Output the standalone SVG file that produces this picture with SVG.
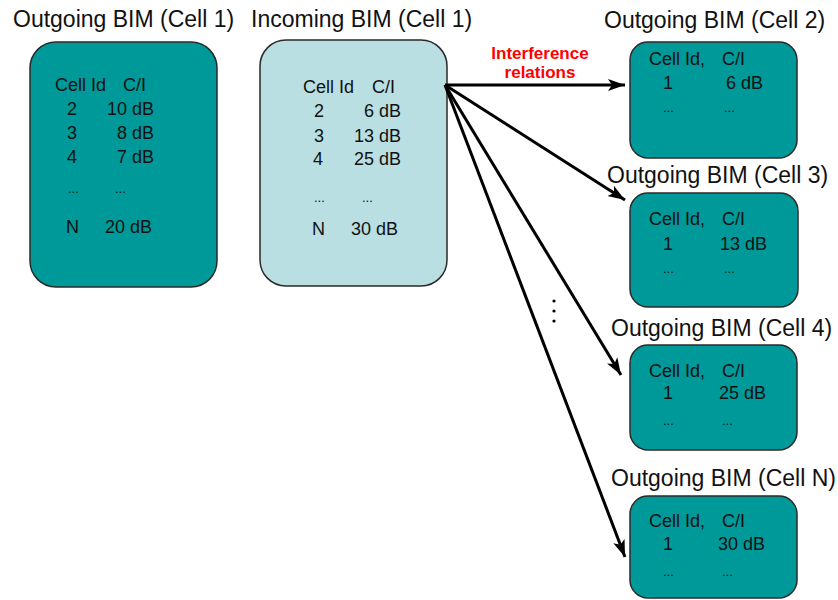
<svg xmlns="http://www.w3.org/2000/svg" width="838" height="600" viewBox="0 0 838 600">
<defs>
<style>
.title{font-family:"Liberation Sans",Arial,sans-serif;font-size:23px;fill:#111}
.t{font-family:"Liberation Sans",Arial,sans-serif;font-size:18px;fill:#111}
.dots{font-family:"Liberation Sans",Arial,sans-serif;font-size:13px;fill:#111}
.dark{fill:#009999;stroke:#2a2a2a;stroke-width:1.5}
.light{fill:#b9dfe2;stroke:#2a2a2a;stroke-width:1.5}
.conn{stroke:#000;stroke-width:3;fill:none;marker-end:url(#arr)}
.red{font-family:"Liberation Sans",Arial,sans-serif;font-size:17px;font-weight:bold;fill:#ff0000}
</style>
<marker id="arr" markerUnits="userSpaceOnUse" markerWidth="17" markerHeight="14" viewBox="0 0 17 14" refX="17" refY="7" orient="auto">
<path d="M0,1 L17,7 L0,13 L4,7 Z" fill="#000"/>
</marker>
</defs>
<rect width="838" height="600" fill="#fff"/>

<g id="out1">
<text class="title" x="13" y="27">Outgoing BIM (Cell 1)</text>
<rect class="dark" x="30" y="42" width="187" height="245" rx="26"/>
<text class="t" x="55" y="91">Cell Id</text>
<text class="t" x="123" y="91">C/I</text>
<text class="t" x="67" y="115">2</text><text class="t" x="154" y="115" text-anchor="end">10 dB</text>
<text class="t" x="67" y="139">3</text><text class="t" x="154" y="139" text-anchor="end">8 dB</text>
<text class="t" x="67" y="163">4</text><text class="t" x="154" y="163" text-anchor="end">7 dB</text>
<text class="dots" x="68" y="193">...</text><text class="dots" x="115" y="193">...</text>
<text class="t" x="66" y="233">N</text><text class="t" x="152" y="233" text-anchor="end">20 dB</text>
</g>

<g id="in1">
<text class="title" x="251" y="27">Incoming BIM (Cell 1)</text>
<rect class="light" x="260" y="40" width="187" height="246" rx="26"/>
<text class="t" x="303" y="93">Cell Id</text>
<text class="t" x="372" y="93">C/I</text>
<text class="t" x="314" y="117">2</text><text class="t" x="401" y="117" text-anchor="end">6 dB</text>
<text class="t" x="314" y="142">3</text><text class="t" x="401" y="142" text-anchor="end">13 dB</text>
<text class="t" x="313" y="165">4</text><text class="t" x="401" y="165" text-anchor="end">25 dB</text>
<text class="dots" x="314" y="202">...</text><text class="dots" x="362" y="202">...</text>
<text class="t" x="312" y="235">N</text><text class="t" x="398" y="235" text-anchor="end">30 dB</text>
</g>

<g id="out2">
<text class="title" x="604" y="28">Outgoing BIM (Cell 2)</text>
<rect class="dark" x="630" y="42" width="167" height="116" rx="18"/>
<text class="t" x="649" y="65">Cell Id,</text><text class="t" x="722" y="65">C/I</text>
<text class="t" x="663" y="89">1</text><text class="t" x="726" y="89">6 dB</text>
<text class="dots" x="663" y="112">...</text><text class="dots" x="724" y="112">...</text>
</g>

<g id="out3">
<text class="title" x="607" y="183">Outgoing BIM (Cell 3)</text>
<rect class="dark" x="630" y="193" width="168" height="114" rx="18"/>
<text class="t" x="649" y="225">Cell Id,</text><text class="t" x="722" y="225">C/I</text>
<text class="t" x="663" y="250">1</text><text class="t" x="720" y="250">13 dB</text>
<text class="dots" x="663" y="273">...</text><text class="dots" x="724" y="273">...</text>
</g>

<g id="out4">
<text class="title" x="611" y="336">Outgoing BIM (Cell 4)</text>
<rect class="dark" x="630" y="345" width="167" height="105" rx="18"/>
<text class="t" x="649" y="377">Cell Id,</text><text class="t" x="722" y="377">C/I</text>
<text class="t" x="663" y="399">1</text><text class="t" x="719" y="399">25 dB</text>
<text class="dots" x="663" y="425">...</text><text class="dots" x="722" y="425">...</text>
</g>

<g id="outN">
<text class="title" x="611" y="486">Outgoing BIM (Cell N)</text>
<rect class="dark" x="630" y="496" width="167" height="102" rx="18"/>
<text class="t" x="649" y="527">Cell Id,</text><text class="t" x="722" y="527">C/I</text>
<text class="t" x="663" y="550">1</text><text class="t" x="718" y="550">30 dB</text>
<text class="dots" x="663" y="576">...</text><text class="dots" x="722" y="576">...</text>
</g>

<g id="connectors">
<line class="conn" x1="445" y1="85" x2="625" y2="85"/>
<line class="conn" x1="445" y1="85" x2="625" y2="200"/>
<line class="conn" x1="445" y1="85" x2="621" y2="375"/>
<line class="conn" x1="445" y1="85" x2="625" y2="557"/>
<text class="red" x="540" y="59" text-anchor="middle">Interference</text>
<text class="red" x="540" y="78" text-anchor="middle">relations</text>
<circle cx="554" cy="301" r="1.6" fill="#000"/>
<circle cx="554" cy="311" r="1.6" fill="#000"/>
<circle cx="554" cy="321" r="1.6" fill="#000"/>
</g>
</svg>
